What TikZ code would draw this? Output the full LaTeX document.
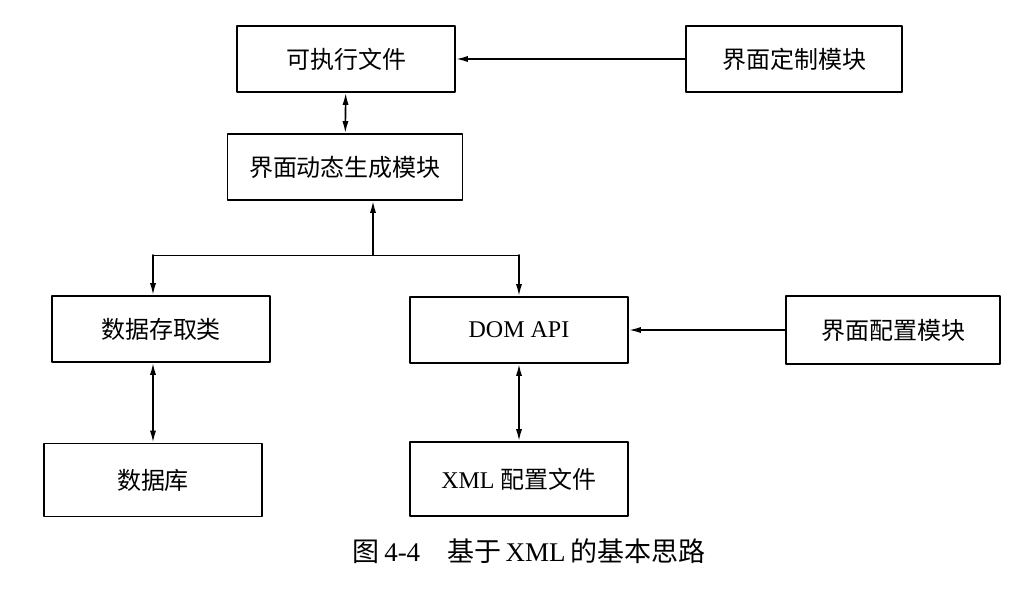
\documentclass[tikz,border=0pt]{standalone}
\usepackage{fontspec}
\setmainfont{Liberation Serif}
\newfontfamily\cjk{Noto Sans CJK SC}
\usetikzlibrary{arrows.meta}
\tikzset{
  box/.style={draw, line width=.8pt, minimum width=109pt, minimum height=33pt, inner sep=0pt, font=\fontsize{12}{14}\selectfont},
  arr/.style={line width=.8pt, -{Latex[length=6pt,width=3pt]}},
  darr/.style={line width=.8pt, {Latex[length=6pt,width=3pt]}-{Latex[length=6pt,width=3pt]}}
}
\begin{document}
\begin{tikzpicture}[x=.5pt,y=-.5pt,line cap=round,line join=round]
  \useasboundingbox (0,0) rectangle (1014,605);
  % top row
  \node[box] (exe) at (346,59) {\cjk 可执行文件};
  \node[box, minimum width=108pt] (cust) at (794,59) {\cjk 界面定制模块};
  \node[box, minimum width=117.5pt] (gen) at (345,167) {\cjk 界面动态生成模块};
  % middle row
  \node[box] (acc) at (161,329) {\cjk 数据存取类};
  \node[box] (dom) at (519,330) {DOM API};
  \node[box, minimum width=107pt, minimum height=34pt] (cfg) at (893,330) {\cjk 界面配置模块};
  % bottom row
  \node[box, minimum height=36.5pt] (db) at (153,480) {\cjk 数据库};
  \node[box, minimum height=37pt] (xml) at (519,479) {XML {\cjk 配置文件}};
  \node[font=\fontsize{13.5}{15}\selectfont] (cap) at (529,551) {{\cjk 图}\,4-4\quad{\cjk 基于}\,XML\,{\cjk 的基本思路}};
  % connectors
  \draw[arr] (cust) -- (exe);
  \draw[darr] (exe) -- (gen);
  \coordinate (fork) at (373,255);
  \coordinate (jl) at (153,255);
  \coordinate (jr) at (519,255);
  \draw[arr] (fork) -- (fork |- gen.south);
  \draw (jl) -- (jr);
  \draw[arr] (jl) -- (jl |- acc.north);
  \draw[arr] (jr) -- (dom);
  \draw[arr] (cfg) -- (dom);
  \draw[darr] (acc.south -| db) -- (db);
  \draw[darr] (dom) -- (xml);
\end{tikzpicture}
\end{document}
